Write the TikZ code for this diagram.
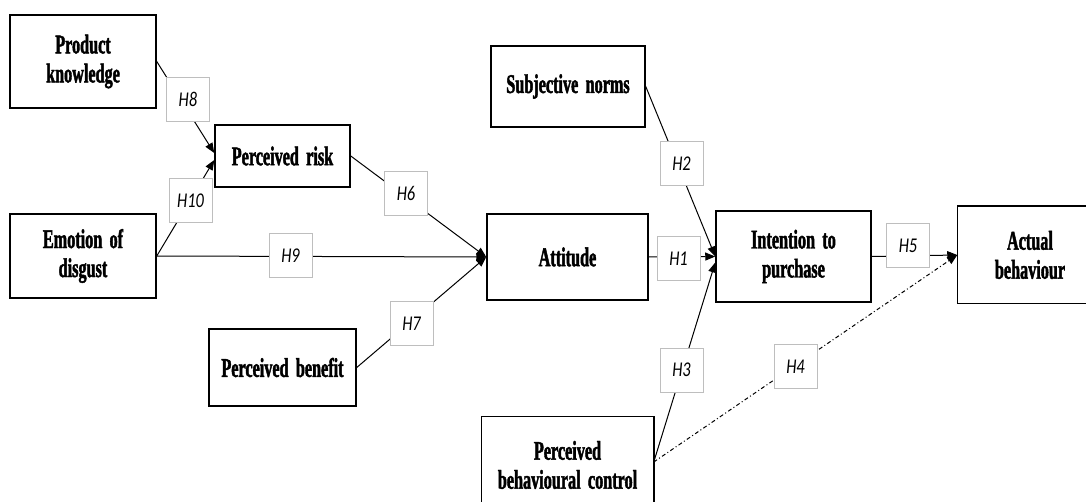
\documentclass[tikz,border=0pt]{standalone}
\usepackage{fontspec}
\newfontfamily\boxfont{Liberation Serif Bold}[FakeStretch=0.6, WordSpace=1.8, FakeBold=1.6]
\newfontfamily\labfont{Carlito}[FakeStretch=0.78]
\usetikzlibrary{arrows.meta}
\definecolor{labgray}{RGB}{190,190,190}
\begin{document}
\begin{tikzpicture}[x=1pt,y=-1pt,
  var/.style={draw=black,line width=1.5pt,fill=white,align=center,inner sep=2pt,
    font=\boxfont\fontsize{27}{29}\selectfont},
  openvar/.style={var,draw=none},
  boxline/.style={draw=black,line width=1.5pt},
  hl/.style={draw=labgray,line width=1pt,fill=white,minimum width=43pt,minimum height=44pt,
    inner sep=0pt,font=\labfont\itshape\fontsize{21}{22}\selectfont},
  conn/.style={line width=1pt,-{Triangle[length=10pt,width=8pt]}},
  dashdot/.style={line width=1pt,dash pattern=on 4pt off 2.5pt on 1pt off 2.5pt,-{Triangle[length=10pt,width=8pt]}}]
\useasboundingbox (0,0) rectangle (1086,502);
\clip (0,0) rectangle (1086,502);
% boxes
\node[var,minimum width=146pt,minimum height=93pt] (pk) at (83,61.5) {Product\\knowledge};
\node[var,minimum width=135pt,minimum height=62pt] (pr) at (282.5,156) {Perceived risk};
\node[var,minimum width=146pt,minimum height=84pt] (ed) at (83,256) {Emotion of\\disgust};
\node[var,minimum width=147pt,minimum height=77pt] (pb) at (282.5,367.5) {Perceived benefit};
\node[var,minimum width=161pt,minimum height=86pt] (att) at (567.5,257) {Attitude};
\node[var,minimum width=154pt,minimum height=81pt] (sn) at (568,86.5) {Subjective norms};
\node[var,minimum width=155pt,minimum height=91pt] (int) at (793.5,256.5) {Intention to\\purchase};
\node[openvar,minimum width=144pt,minimum height=96pt] (ab) at (1030,255) {Actual\\behaviour};
\node[openvar,minimum width=171pt,minimum height=96pt] (pbc) at (567.5,465) {Perceived\\behavioural control};
% boxes cut by the picture edge (right side / bottom side not shown)
\draw[boxline] ([xshift=40pt]ab.north east) -- (ab.north west) -- (ab.south west) -- ([xshift=40pt]ab.south east);
\draw[boxline] ([yshift=-40pt]pbc.south west) -- (pbc.north west) -- (pbc.north east) -- ([yshift=-40pt]pbc.south east);
% connectors
\draw[conn] (pk.east) -- ([yshift=3pt]pr.west);
\draw[conn] (ed.east) -- ([yshift=-4pt]pr.west);
\draw[conn] (pr.east) -- (att.west);
\draw[conn] (ed.east) -- (att.west);
\draw[conn] (pb.east) -- (att.west);
\draw[conn] (sn.east) -- (int.west);
\draw[conn] (att.east) -- (int.west);
\draw[conn] ([yshift=3pt]pbc.east) -- ([yshift=-6pt]int.west);
\draw[dashdot] ([yshift=3pt]pbc.east) -- (ab.west);
\draw[conn] (int.east) -- (ab.west);
% hypothesis labels
\node[hl] (h8) at (188,99.5) {H8};
\node[hl] (h10) at (190.5,201) {H10};
\node[hl] (h6) at (406,193.5) {H6};
\node[hl] (h9) at (290.5,255.5) {H9};
\node[hl] (h7) at (411.5,323.5) {H7};
\node[hl] (h2) at (681.5,164) {H2};
\node[hl] (h1) at (678.5,259) {H1};
\node[hl] (h3) at (681.5,370) {H3};
\node[hl] (h4) at (795.5,366.5) {H4};
\node[hl] (h5) at (908,246) {H5};
\end{tikzpicture}
\end{document}
